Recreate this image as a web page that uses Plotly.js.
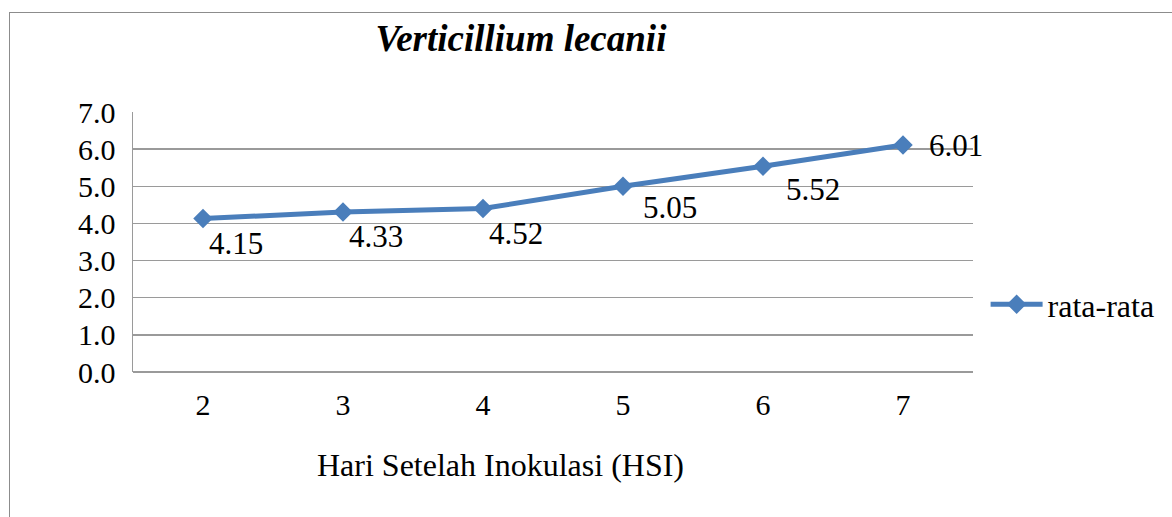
<!DOCTYPE html>
<html>
<head>
<meta charset="utf-8">
<script src="https://cdn.plot.ly/plotly-3.0.1.min.js"></script>
<style>
  html, body { margin: 0; padding: 0; background: #fff; overflow: hidden; }
  #chart { width: 1172px; height: 517px; position: absolute; left: 0; top: 0; }
  #frame { position: absolute; left: 9px; top: 12px; width: 1300px; height: 700px;
           border: 1.5px solid #8c8c8c; pointer-events: none; }
</style>
</head>
<body>
<div id="chart"></div>
<div id="frame"></div>
<script>
// Data
const days = ["2", "3", "4", "5", "6", "7"];
const plottedValues = [4.13, 4.31, 4.40, 5.00, 5.54, 6.11];
const labelTexts = ["4.15", "4.33", "4.52", "5.05", "5.52", "6.01"];
const seriesName = "rata-rata";
const yTickVals = [0, 1, 2, 3, 4, 5, 6, 7];
const yTickText = ["0.0", "1.0", "2.0", "3.0", "4.0", "5.0", "6.0", "7.0"];

const FONT = "Liberation Serif";
const TITLE_FONT = "Times New Roman, Liberation Serif, serif";
const BLUE = "#4a7ebb";
const GRID = "#9a9a9a";

// label placement offsets (pixels), styling only
const labelShiftX = [33, 33, 33, 47, 50, 53];
const labelShiftY = [-25, -25, -25, -21, -23, 0];

const trace = {
  x: days,
  y: plottedValues,
  type: "scatter",
  mode: "lines+markers",
  name: seriesName,
  line: { color: BLUE, width: 5 },
  marker: { symbol: "diamond", size: 15, color: BLUE }
};

const annotations = days.map((d, i) => ({
  x: i, y: plottedValues[i], xref: "x", yref: "y",
  text: labelTexts[i], showarrow: false,
  xanchor: "center", yanchor: "middle",
  xshift: labelShiftX[i], yshift: labelShiftY[i],
  font: { family: FONT, size: 31, color: "#000" }
}));

annotations.push({
  xref: "paper", yref: "paper", x: (500 - 133) / 840, y: -93 / 260,
  text: "Hari Setelah Inokulasi (HSI)", showarrow: false,
  xanchor: "center", yanchor: "middle",
  font: { family: FONT, size: 32, color: "#000" }
});

const layout = {
  width: 1172, height: 517,
  margin: { l: 133, r: 199, t: 112, b: 145, pad: 0 },
  paper_bgcolor: "rgba(0,0,0,0)",
  plot_bgcolor: "#fff",
  title: {
    text: "<b><i>Verticillium lecanii</i></b>",
    x: (521 - 133) / 840, xanchor: "center", xref: "paper",
    y: 1 - 38 / 517, yanchor: "middle", yref: "container",
    font: { family: TITLE_FONT, size: 37, color: "#000" }
  },
  xaxis: {
    type: "category",
    range: [-0.5, 5.5],
    showgrid: false,
    showline: false,
    zeroline: false,
    ticks: "",
    tickfont: { family: FONT, size: 30, color: "#000" },
    ticklabelstandoff: 12,
    fixedrange: true
  },
  yaxis: {
    range: [0, 7],
    tickvals: yTickVals,
    ticktext: yTickText,
    showgrid: true,
    gridcolor: GRID,
    gridwidth: 1.5,
    showline: true,
    linecolor: GRID,
    linewidth: 1.5,
    zeroline: true,
    zerolinecolor: GRID,
    zerolinewidth: 1.5,
    ticks: "",
    tickfont: { family: FONT, size: 30, color: "#000" },
    ticklabelstandoff: 10,
    fixedrange: true
  },
  showlegend: true,
  legend: {
    x: 1.015, xanchor: "left",
    y: 0.26, yanchor: "middle",
    font: { family: FONT, size: 32, color: "#000" },
    bgcolor: "rgba(0,0,0,0)",
    itemwidth: 52
  },
  annotations: annotations
};

Plotly.newPlot("chart", [trace], layout, { displayModeBar: false, staticPlot: true });
</script>
</body>
</html>
